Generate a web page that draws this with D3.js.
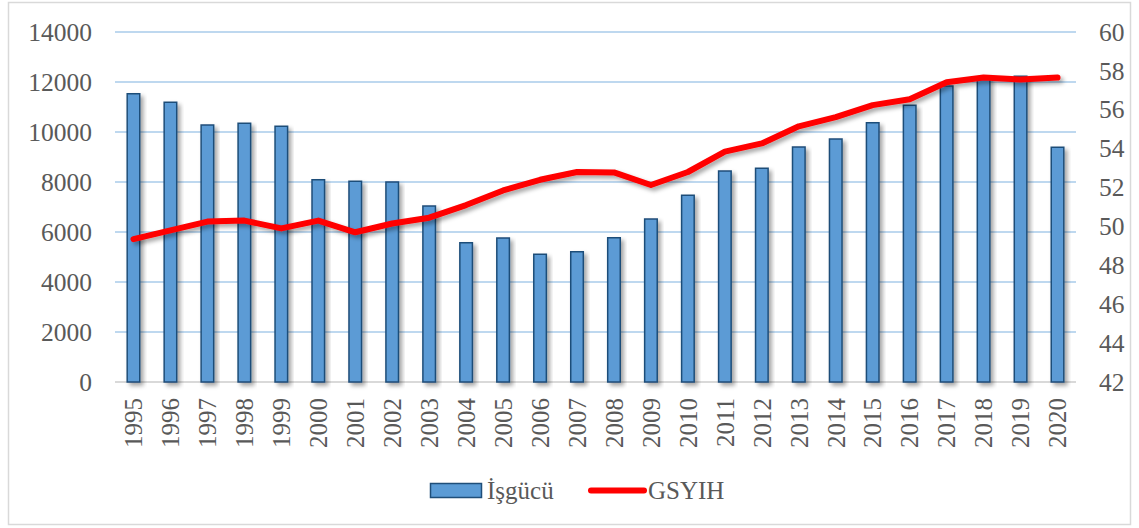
<!DOCTYPE html>
<html>
<head>
<meta charset="utf-8">
<script src="https://cdn.jsdelivr.net/npm/d3@7"></script>
<style>
  body { margin: 0; background: #fff; }
  svg text { font-family: "Liberation Serif", "Times New Roman", serif; fill: #595959; }
</style>
</head>
<body>
<svg id="chart" width="1139" height="528"></svg>
<script>
// years on the x axis
var years = ["1995","1996","1997","1998","1999","2000","2001","2002","2003","2004","2005","2006","2007","2008","2009","2010","2011","2012","2013","2014","2015","2016","2017","2018","2019","2020"];
// bars - İşgücü (left axis)
var isgucu = [11530,11190,10280,10350,10230,8090,8030,8000,7040,5570,5760,5110,5210,5770,6520,7470,8440,8550,9400,9720,10370,11070,11840,12200,12230,9390];
// line - GSYIH (right axis)
var gsyih = [49.35,49.8,50.25,50.3,49.9,50.3,49.7,50.15,50.45,51.1,51.85,52.4,52.8,52.78,52.13,52.8,53.85,54.27,55.15,55.62,56.24,56.54,57.42,57.66,57.56,57.66];
var leftTicks = [0,2000,4000,6000,8000,10000,12000,14000];
var rightTicks = [42,44,46,48,50,52,54,56,58,60];

var serif = '"Liberation Serif", "Times New Roman", serif';
var svg = d3.select("#chart");

// outer chart border
svg.append("rect")
    .attr("x", 8.5).attr("y", 2.5)
    .attr("width", 1122).attr("height", 522)
    .attr("fill", "none").attr("stroke", "#d9d9d9").attr("stroke-width", 1.5);

var defs = svg.append("defs");
defs.append("filter").attr("id", "shadow")
    .attr("x", "-50%").attr("y", "-20%").attr("width", "200%").attr("height", "140%")
  .append("feDropShadow")
    .attr("dx", 3).attr("dy", 3).attr("stdDeviation", 2)
    .attr("flood-color", "#000").attr("flood-opacity", 0.35);

var plotL = 115, plotR = 1076, plotT = 32, plotB = 382;

var x = d3.scaleBand().domain(years).range([plotL, plotR]).paddingInner(0.66).paddingOuter(0.33);
var yL = d3.scaleLinear().domain([0, 14000]).range([plotB, plotT]);
var yR = d3.scaleLinear().domain([42, 60]).range([plotB, plotT]);

// gridlines
svg.append("g")
  .selectAll("line")
  .data(leftTicks.filter(function(d) { return d > 0; }))
  .enter().append("line")
    .attr("x1", plotL).attr("x2", plotR)
    .attr("y1", function(d) { return yL(d); })
    .attr("y2", function(d) { return yL(d); })
    .attr("stroke", "#a9cbea").attr("stroke-width", 1.5);

// baseline
svg.append("line")
    .attr("x1", plotL).attr("x2", plotR)
    .attr("y1", plotB).attr("y2", plotB)
    .attr("stroke", "#d9d9d9").attr("stroke-width", 2);

// left axis
var axL = svg.append("g")
    .attr("transform", "translate(" + (plotL - 23) + ",0)")
    .call(d3.axisLeft(yL).tickValues(leftTicks).tickFormat(d3.format("d")).tickSize(0).tickPadding(0));
axL.select(".domain").remove();

// right axis
var axR = svg.append("g")
    .attr("transform", "translate(" + (plotR + 23) + ",0)")
    .call(d3.axisRight(yR).tickValues(rightTicks).tickFormat(d3.format("d")).tickSize(0).tickPadding(0));
axR.select(".domain").remove();

svg.selectAll(".tick text")
    .attr("fill", null)
    .style("font-family", serif)
    .style("font-size", "25.5px")
    .style("fill", "#595959");

// x labels (rotated)
svg.append("g")
  .selectAll("text")
  .data(years)
  .enter().append("text")
    .attr("transform", function(d) {
      return "translate(" + (x(d) + x.bandwidth() / 2) + "," + (plotB + 16) + ") rotate(-90)";
    })
    .attr("text-anchor", "end")
    .attr("dy", "0.35em")
    .style("font-family", serif)
    .style("font-size", "25px")
    .text(function(d) { return d; });

// bars
svg.append("g")
  .selectAll("rect")
  .data(isgucu)
  .enter().append("rect")
    .attr("x", function(d, i) { return x(years[i]); })
    .attr("y", function(d) { return yL(d); })
    .attr("width", x.bandwidth())
    .attr("height", function(d) { return plotB - yL(d); })
    .attr("fill", "#5b9bd5")
    .attr("stroke", "#1f4e79").attr("stroke-width", 1.5)
    .attr("filter", "url(#shadow)");

// line
var line = d3.line()
    .x(function(d, i) { return x(years[i]) + x.bandwidth() / 2; })
    .y(function(d) { return yR(d); });

svg.append("path")
    .datum(gsyih)
    .attr("d", line)
    .attr("fill", "none")
    .attr("stroke", "#ff0000")
    .attr("stroke-width", 6)
    .attr("stroke-linejoin", "round")
    .attr("stroke-linecap", "round")
    .attr("filter", "url(#shadow)");

// legend
var lg = svg.append("g");
lg.append("rect")
    .attr("x", 430.5).attr("y", 483.5).attr("width", 51).attr("height", 14)
    .attr("fill", "#5b9bd5").attr("stroke", "#1f4e79").attr("stroke-width", 1.5);
lg.append("text")
    .attr("x", 487).attr("y", 499)
    .style("font-family", serif)
    .style("font-size", "25px")
    .text("İşgücü");
lg.append("line")
    .attr("x1", 591).attr("x2", 644).attr("y1", 490.5).attr("y2", 490.5)
    .attr("stroke", "#ff0000").attr("stroke-width", 6).attr("stroke-linecap", "round");
lg.append("text")
    .attr("x", 648).attr("y", 499)
    .style("font-family", serif)
    .style("font-size", "25px")
    .text("GSYIH");
</script>
</body>
</html>
